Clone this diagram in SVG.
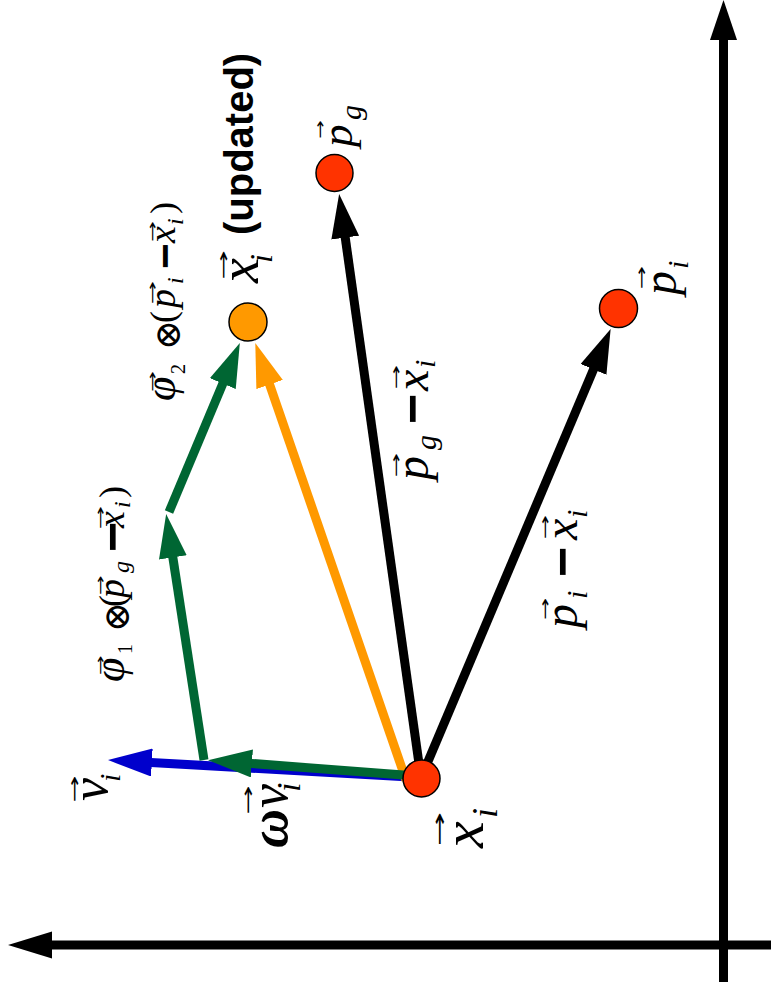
<svg xmlns="http://www.w3.org/2000/svg" width="771" height="989" viewBox="0 0 771 989">
<style>
.m{font-family:"Liberation Serif","Times New Roman",serif;font-style:italic;fill:#000}
.u{font-family:"Liberation Serif","Times New Roman",serif;fill:#000}
.a{font-family:"DejaVu Sans",sans-serif;fill:#000}
.o{font-family:"DejaVu Serif",serif;fill:#000}
.mi{font-family:"Liberation Sans",Arial,sans-serif;font-weight:bold;fill:#000}
.b{font-family:"Liberation Sans",Arial,sans-serif;font-weight:bold;fill:#000}
.ln{fill:none;stroke-width:9;stroke-linecap:butt}
.node{stroke:#000;stroke-width:1.5}
</style>
<defs>
<marker id="hk" markerUnits="userSpaceOnUse" viewBox="0 0 44 28" refX="1" refY="14" markerWidth="44" markerHeight="28" orient="auto"><path d="M0,0 L44,14 L0,28 z" fill="#000"/></marker>
<marker id="hg" markerUnits="userSpaceOnUse" viewBox="0 0 44 28" refX="1" refY="14" markerWidth="44" markerHeight="28" orient="auto"><path d="M0,0 L44,14 L0,28 z" fill="#006633"/></marker>
<marker id="ho" markerUnits="userSpaceOnUse" viewBox="0 0 44 28" refX="1" refY="14" markerWidth="44" markerHeight="28" orient="auto"><path d="M0,0 L44,14 L0,28 z" fill="#FF9900"/></marker>
<marker id="hb" markerUnits="userSpaceOnUse" viewBox="0 0 44 28" refX="1" refY="14" markerWidth="44" markerHeight="28" orient="auto"><path d="M0,0 L44,14 L0,28 z" fill="#0000CC"/></marker>
</defs>
<rect width="771" height="989" fill="#fff"/>

<g id="axes">
<line x1="723.5" y1="38" x2="723.5" y2="982" stroke="#000" stroke-width="9"/>
<polygon points="723.5,0 710,40 737,40" fill="#000"/>
<line x1="50" y1="945" x2="771" y2="945" stroke="#000" stroke-width="9"/>
<polygon points="8,945 52,931.5 52,958.5" fill="#000"/>
</g>

<g id="connectors">
<line class="ln" x1="421" y1="778" x2="345.1" y2="236.6" stroke="#000" marker-end="url(#hk)"/>
<line class="ln" x1="421" y1="778" x2="593.9" y2="368.5" stroke="#000" marker-end="url(#hk)"/>
<line class="ln" x1="410" y1="777" x2="150.9" y2="762.5" stroke="#0000CC" marker-end="url(#hb)"/>
<line class="ln" x1="406" y1="780" x2="269.3" y2="383.6" stroke="#FF9900" marker-end="url(#ho)"/>
<line class="ln" x1="410" y1="775.5" x2="250.9" y2="763.4" stroke="#006633" marker-end="url(#hg)"/>
<line class="ln" x1="204" y1="760" x2="172.7" y2="556.5" stroke="#006633" marker-end="url(#hg)"/>
<line class="ln" x1="169" y1="512" x2="223.2" y2="382.7" stroke="#006633" marker-end="url(#hg)"/>
</g>

<g id="node-xi">
<circle class="node" cx="421.5" cy="778.5" r="18.5" fill="#FF3300"/>
<g transform="translate(483,850) rotate(-90)">
<text class="m" x="2" y="0" font-size="60">x</text>
<text class="m" x="32" y="14" font-size="36">i</text>
<text class="a" transform="translate(3.7,-37.4) scale(2.06,1)" font-size="20">→</text>
</g>
</g>

<g id="node-pg">
<circle class="node" cx="334.5" cy="173" r="18.5" fill="#FF3300"/>
<g transform="translate(352,147) rotate(-90)">
<text class="m" x="0" y="0" font-size="45">p</text>
<text class="m" x="27" y="9" font-size="30">g</text>
<text class="a" transform="translate(8.2,-27) scale(1.47,1)" font-size="15">→</text>
</g>
</g>

<g id="node-pi">
<circle class="node" cx="618.5" cy="308.5" r="19" fill="#FF3300"/>
<g transform="translate(676,295) rotate(-90)">
<text class="m" x="0" y="0" font-size="48">p</text>
<text class="m" x="26" y="12" font-size="30">i</text>
<text class="a" transform="translate(5.8,-28.7) scale(1.74,1)" font-size="16">→</text>
</g>
</g>

<g id="node-xi-updated">
<circle class="node" cx="248" cy="322" r="19" fill="#FF9900"/>
<g transform="translate(258,285) rotate(-90)">
<text class="m" x="2" y="0" font-size="56">x</text>
<text class="m" x="22" y="14" font-size="32">i</text>
<text class="a" transform="translate(5.2,-29.4) scale(2.08,1)" font-size="17">→</text>
<text class="b" x="50" y="-5" font-size="40">(updated)</text>
</g>
</g>

<g id="labels">
<g transform="translate(577,628) rotate(-90)">
<text class="m" x="0" y="0" font-size="48">p</text>
<text class="m" x="29" y="10" font-size="30">i</text>
<text class="mi" x="51" y="2.5" font-size="52">−</text>
<text class="m" x="88" y="0" font-size="48">x</text>
<text class="m" x="110" y="10" font-size="30">i</text>
<text class="a" transform="translate(7.9,-27.5) scale(1.76,1)" font-size="15">→</text>
<text class="a" transform="translate(88.6,-27.5) scale(1.96,1)" font-size="15">→</text>
</g>
<g transform="translate(428,480) rotate(-90)">
<text class="m" x="0" y="0" font-size="48">p</text>
<text class="m" x="30" y="8" font-size="30">g</text>
<text class="mi" x="56" y="1.5" font-size="52">−</text>
<text class="m" x="89" y="0" font-size="48">x</text>
<text class="m" x="112" y="7" font-size="30">i</text>
<text class="a" transform="translate(2.6,-27.5) scale(1.96,1)" font-size="15">→</text>
<text class="a" transform="translate(90.6,-27.5) scale(1.96,1)" font-size="15">→</text>
</g>
<g transform="translate(124,683) rotate(-90)">
<text class="m" x="1" y="0" font-size="44">φ</text>
<text class="u" x="29" y="8" font-size="20">1</text>
<text class="o" x="51" y="5" font-size="36">⊗</text>
<text class="u" x="76" y="0" font-size="36">(</text>
<text class="m" x="85" y="0" font-size="38">p</text>
<text class="m" x="110" y="5" font-size="24">g</text>
<text class="mi" x="131" y="5.5" font-size="52">−</text>
<text class="m" x="155" y="0" font-size="38">x</text>
<text class="m" x="175" y="6" font-size="24">i</text>
<text class="u" x="185" y="0" font-size="36">)</text>
<text class="a" transform="translate(8.1,-18.9) scale(1.68,1)" font-size="14">→</text>
<text class="a" transform="translate(88.1,-18.9) scale(1.68,1)" font-size="14">→</text>
<text class="a" transform="translate(153.8,-18.9) scale(2.0,1)" font-size="14">→</text>
</g>
<g transform="translate(175,402) rotate(-90)">
<text class="m" x="1" y="0" font-size="44">φ</text>
<text class="u" x="28" y="10" font-size="20">2</text>
<text class="o" x="52" y="5" font-size="36">⊗</text>
<text class="u" x="79" y="0" font-size="36">(</text>
<text class="m" x="94" y="0" font-size="38">p</text>
<text class="m" x="118" y="8" font-size="24">i</text>
<text class="mi" x="133" y="4.5" font-size="44">−</text>
<text class="m" x="159" y="0" font-size="38">x</text>
<text class="m" x="177" y="8" font-size="24">i</text>
<text class="u" x="188" y="0" font-size="36">)</text>
<text class="a" transform="translate(10,-17.9) scale(1.79,1)" font-size="14">→</text>
<text class="a" transform="translate(97.8,-17.9) scale(2.0,1)" font-size="14">→</text>
<text class="a" transform="translate(160,-17.9) scale(1.79,1)" font-size="14">→</text>
</g>
<g transform="translate(287,850) rotate(-90)">
<text class="m" x="2" y="0" font-size="54" font-weight="bold">ω</text>
<text class="m" x="42" y="0" font-size="54">v</text>
<text class="m" x="58" y="13" font-size="34">i</text>
<text class="a" transform="translate(35.2,-32.6) scale(1.96,1)" font-size="18">→</text>
</g>
<g transform="translate(107,802) rotate(-90)">
<text class="m" x="1" y="0" font-size="52">v</text>
<text class="m" x="20" y="13" font-size="30">i</text>
<text class="a" transform="translate(-0.6,-26.9) scale(1.9,1)" font-size="17">→</text>
</g>
</g>
</svg>
